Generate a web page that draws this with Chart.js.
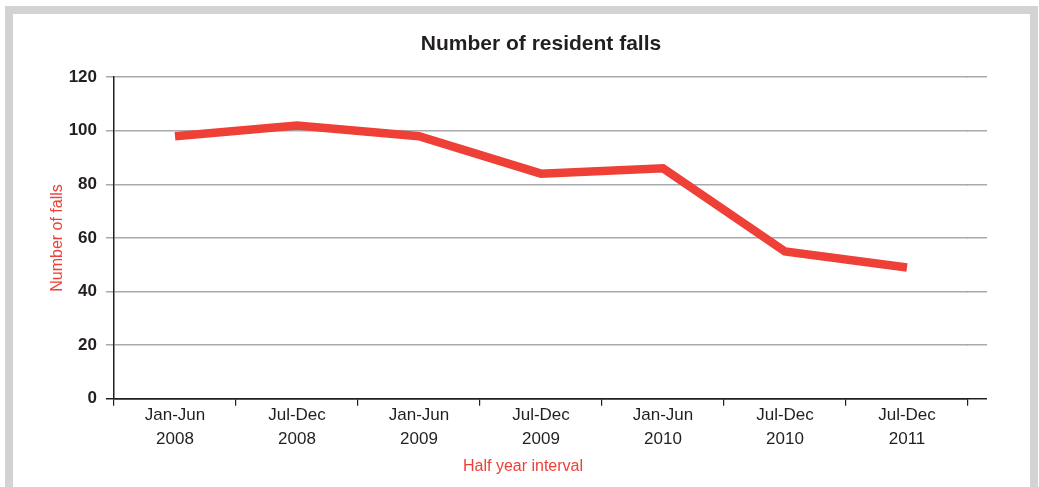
<!DOCTYPE html>
<html>
<head>
<meta charset="utf-8">
<script src="https://cdn.jsdelivr.net/npm/chart.js@4/dist/chart.umd.min.js"></script>
<style>
  html, body { margin: 0; padding: 0; background: #fff; overflow: hidden; }
  .frame {
    position: absolute; left: 5px; top: 6px; width: 1017px; height: 520px;
    border: 8px solid #d1d3d4; border-bottom: none;
  }
  .wrap { position: absolute; left: 0; top: 0; width: 1039px; height: 487px; }
</style>
</head>
<body>
<div class="frame"></div>
<div class="wrap"><canvas id="fallsChart"></canvas></div>
<script>
// Data
const periods = [
    ['Jan-Jun', '2008'],
    ['Jul-Dec', '2008'],
    ['Jan-Jun', '2009'],
    ['Jul-Dec', '2009'],
    ['Jan-Jun', '2010'],
    ['Jul-Dec', '2010'],
    ['Jul-Dec', '2011']
];
const falls = [98, 102, 98, 84, 86, 55, 49];
const yTicks = [0, 20, 40, 60, 80, 100, 120];

const RED = '#ee4036';
const INK = '#231f20';
const GRID = '#a7a9ac';
const FONT = "'Liberation Sans', Arial, sans-serif";

// gridlines and the x axis run a little past the last category
const gridTail = {
    id: 'gridTail',
    beforeDatasetsDraw(chart) {
        const { ctx, chartArea, scales } = chart;
        ctx.save();
        yTicks.forEach(v => {
            const y = Math.round(scales.y.getPixelForValue(v) - 0.75) + 0.75;
            ctx.beginPath();
            ctx.strokeStyle = v === 0 ? INK : GRID;
            ctx.lineWidth = 1.5;
            ctx.moveTo(chartArea.right - 1, y);
            ctx.lineTo(chartArea.right + 19, y);
            ctx.stroke();
        });
        ctx.restore();
    }
};

new Chart(document.getElementById('fallsChart'), {
    type: 'line',
    data: {
        labels: periods,
        datasets: [{
            label: 'Number of falls',
            data: falls,
            borderColor: RED,
            borderWidth: 8.5,
            borderCapStyle: 'butt',
            borderJoinStyle: 'miter',
            pointRadius: 0,
            tension: 0,
            fill: false
        }]
    },
    options: {
        responsive: true,
        maintainAspectRatio: false,
        animation: false,
        layout: { padding: { left: 7, right: 0, top: 0, bottom: 0 } },
        plugins: {
            legend: { display: false },
            tooltip: { enabled: false },
            title: {
                display: true,
                text: 'Number of resident falls',
                fullSize: false,
                color: INK,
                font: { family: FONT, size: 21, weight: 'bold' },
                padding: { top: 32, bottom: 20 }
            },
            subtitle: {
                display: true,
                position: 'bottom',
                text: 'Half year interval',
                color: RED,
                font: { family: FONT, size: 16 },
                padding: { top: 8, bottom: 11 }
            }
        },
        scales: {
            x: {
                offset: true,
                grid: {
                    offset: true,
                    drawOnChartArea: false,
                    drawTicks: true,
                    tickLength: 7,
                    color: INK,
                    lineWidth: 1.2
                },
                border: { display: true, color: INK, width: 1.5 },
                ticks: {
                    autoSkip: false,
                    maxRotation: 0,
                    padding: -2,
                    color: INK,
                    font: { family: FONT, size: 17, lineHeight: 1.41 }
                },
                afterFit: s => { s.height = 50; }
            },
            y: {
                min: 0,
                max: 120,
                afterBuildTicks: s => { s.ticks = yTicks.map(v => ({ value: v })); },
                grid: {
                    tickLength: 8,
                    lineWidth: 1.5,
                    color: ctx => ctx.tick && ctx.tick.value === 0 ? INK : GRID
                },
                border: { display: true, color: INK, width: 1.5 },
                ticks: {
                    padding: 9,
                    color: INK,
                    font: { family: FONT, size: 17, weight: 'bold' }
                },
                title: {
                    display: true,
                    text: 'Number of falls',
                    color: RED,
                    font: { family: FONT, size: 16 },
                    padding: { top: 41, bottom: 0 }
                },
                afterFit: s => { s.width = 107; }
            },
            pad: {
                type: 'linear',
                position: 'right',
                grid: { display: false },
                border: { display: false },
                ticks: { display: false },
                afterFit: s => { s.width = 71; }
            }
        }
    },
    plugins: [gridTail]
});
</script>
</body>
</html>
